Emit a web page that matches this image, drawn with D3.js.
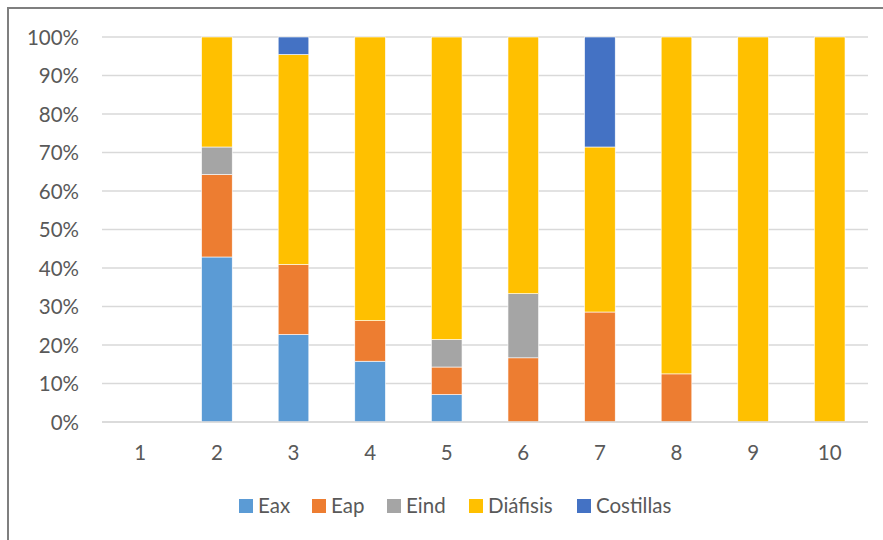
<!DOCTYPE html>
<html>
<head>
<meta charset="utf-8">
<script src="https://cdn.jsdelivr.net/npm/d3@7"></script>
<style>
  html, body { margin: 0; padding: 0; background: #fff; }
  svg { display: block; }
  text { font-family: Lato, "Open Sans", sans-serif; fill: #595959; }
</style>
</head>
<body>
<svg id="chart" width="883" height="540"></svg>
<script>
// Categories along the x axis
const categories = ["1", "2", "3", "4", "5", "6", "7", "8", "9", "10"];

// Share of each element per category (percent)
const eax       = [0, 42.86, 22.73, 15.79, 7.14, 0,     0,     0,    0,   0];
const eap       = [0, 21.43, 18.18, 10.53, 7.14, 16.67, 28.57, 12.5, 0,   0];
const eind      = [0, 7.14,  0,     0,     7.14, 16.67, 0,     0,    0,   0];
const diafisis  = [0, 28.57, 54.55, 73.68, 78.57, 66.66, 42.86, 87.5, 100, 100];
const costillas = [0, 0,     4.54,  0,     0,    0,     28.57, 0,    0,   0];

const seriesNames  = ["Eax", "Eap", "Eind", "Diáfisis", "Costillas"];
const seriesValues = [eax, eap, eind, diafisis, costillas];
const seriesColors = ["#5B9BD5", "#ED7D31", "#A5A5A5", "#FFC000", "#4472C4"];

const yTicks = [0, 10, 20, 30, 40, 50, 60, 70, 80, 90, 100];

const svg = d3.select("#chart");
const fontSize = 20.5;

// Outer chart frame (runs off the right and bottom edges)
svg.append("rect")
  .attr("x", 8).attr("y", 8)
  .attr("width", 900).attr("height", 560)
  .attr("fill", "#fff")
  .attr("stroke", "#7F7F7F")
  .attr("stroke-width", 2);

const plot = { left: 102, right: 868, top: 37, bottom: 422 };

const x = d3.scaleBand()
  .domain(categories)
  .range([plot.left, plot.right])
  .paddingInner(0.6)
  .paddingOuter(0.3);

const y = d3.scaleLinear()
  .domain([0, 100])
  .range([plot.bottom, plot.top]);

// Gridlines
svg.append("g")
  .selectAll("line")
  .data(yTicks)
  .join("line")
  .attr("x1", plot.left).attr("x2", plot.right)
  .attr("y1", d => y(d)).attr("y2", d => y(d))
  .attr("stroke", "#D9D9D9")
  .attr("stroke-width", 1.5);

// Y axis labels
const yAxis = d3.axisLeft(y)
  .tickValues(yTicks)
  .tickFormat(d => d + "%")
  .tickSize(0)
  .tickPadding(0);
const yg = svg.append("g")
  .attr("transform", `translate(${plot.left - 23},0)`)
  .call(yAxis);
yg.select(".domain").remove();
yg.selectAll("text")
  .attr("font-size", fontSize)
  .attr("dy", "0.35em")
  .style("fill", "#595959")
  .style("font-family", "Lato, 'Open Sans', sans-serif");

// Stacked bars
const table = categories.map((c, i) => {
  const row = { cat: c };
  seriesNames.forEach((s, j) => { row[s] = seriesValues[j][i]; });
  return row;
});
const stack = d3.stack().keys(seriesNames)(table);

svg.append("g")
  .selectAll("g")
  .data(stack)
  .join("g")
  .attr("fill", (d, i) => seriesColors[i])
  .selectAll("rect")
  .data(d => d.filter(p => p[1] - p[0] > 0))
  .join("rect")
  .attr("x", d => x(d.data.cat))
  .attr("width", x.bandwidth())
  .attr("y", d => y(d[1]))
  .attr("height", d => y(d[0]) - y(d[1]))
  .attr("stroke", "#fff")
  .attr("stroke-width", 0.6);

// X axis line at 0%
svg.append("line")
  .attr("x1", plot.left).attr("x2", plot.right)
  .attr("y1", y(0)).attr("y2", y(0))
  .attr("stroke", "#D9D9D9")
  .attr("stroke-width", 1.5);

// X axis labels
const xAxis = d3.axisBottom(x).tickSize(0).tickPadding(0);
const xg = svg.append("g")
  .attr("transform", `translate(0,${plot.bottom + 31})`)
  .call(xAxis);
xg.select(".domain").remove();
xg.selectAll("text")
  .attr("font-size", fontSize)
  .attr("dy", "0.35em")
  .style("fill", "#595959")
  .style("font-family", "Lato, 'Open Sans', sans-serif");

// Legend
const legendX = [239, 312, 387, 469, 577];
const legend = svg.append("g");
seriesNames.forEach((s, i) => {
  legend.append("rect")
    .attr("x", legendX[i]).attr("y", 499)
    .attr("width", 14).attr("height", 14)
    .attr("fill", seriesColors[i]);
  legend.append("text")
    .attr("x", legendX[i] + 19).attr("y", 506)
    .attr("dy", "0.35em")
    .attr("font-size", fontSize)
    .text(s);
});
</script>
</body>
</html>
